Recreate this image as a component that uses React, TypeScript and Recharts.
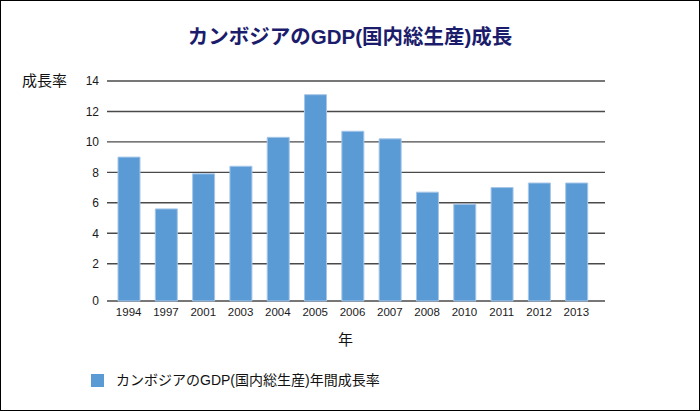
import { BarChart, Bar, XAxis, YAxis, CartesianGrid } from "recharts";

const years = ["1994", "1997", "2001", "2003", "2004", "2005", "2006", "2007", "2008", "2010", "2011", "2012", "2013"];
const growth = [9.0, 5.6, 7.9, 8.4, 10.3, 13.1, 10.7, 10.2, 6.7, 5.9, 7.0, 7.3, 7.3];
const yTicks = [-0.45, 2, 4, 6, 8, 10, 12, 14];

// the original draws its zero line a bit below the regular grid spacing
const Y_FLOOR = -0.45;

const data = years.map((year, i) => ({ year, value: growth[i] }));

const FONT = '"Liberation Sans", Arial, "Noto Sans CJK JP", sans-serif';
const BAR = "#5b9bd5";

export default function App() {
  return (
    <div style={{ position: "absolute", left: 0, top: 0, width: 700, height: 411, background: "#fff", fontFamily: FONT }}>
      <BarChart width={700} height={411} data={data} margin={{ top: 81, right: 95, bottom: 80, left: 0 }}>
        <CartesianGrid vertical={false} stroke="#4a4a4a" strokeWidth={1.4} />
        <XAxis
          dataKey="year"
          axisLine={false}
          tickLine={false}
          tickMargin={1}
          padding={{ left: 3, right: 10 }}
          tick={{ fontSize: 11.5, fill: "#1a1a1a", fontFamily: FONT }}
          interval={0}
        />
        <YAxis
          width={107}
          domain={[Y_FLOOR, 14]}
          ticks={yTicks}
          axisLine={false}
          tickLine={false}
          tickFormatter={(v: number) => (v < 0 ? "0" : String(v))}
          tick={{ fontSize: 12, fill: "#1a1a1a", fontFamily: FONT }}
        />
        <Bar
          dataKey={(d: { value: number }) => [Y_FLOOR, d.value]}
          fill={BAR}
          stroke="#a6c6e8"
          strokeWidth={1}
          barSize={22}
          isAnimationActive={false}
        />
      </BarChart>

      <div style={{ position: "absolute", left: 0, top: 25, width: 700, textAlign: "center", fontSize: 20.5, lineHeight: "24px", fontWeight: "bold", color: "#1c1c6c" }}>
        カンボジアのGDP(国内総生産)成長
      </div>
      <div style={{ position: "absolute", left: 22, top: 72, fontSize: 15, lineHeight: "18px", color: "#111" }}>成長率</div>
      <div style={{ position: "absolute", left: 338, top: 331, fontSize: 15, lineHeight: "18px", color: "#111" }}>年</div>

      <div style={{ position: "absolute", left: 91, top: 372, display: "flex", alignItems: "center", fontSize: 14, lineHeight: "16px", color: "#111" }}>
        <span style={{ display: "inline-block", width: 13, height: 13, background: BAR, marginRight: 12 }} />
        カンボジアのGDP(国内総生産)年間成長率
      </div>

      <div style={{ position: "absolute", left: 0, top: 0, width: 700, height: 411, boxSizing: "border-box", border: "1.5px solid #000", pointerEvents: "none" }} />
    </div>
  );
}
